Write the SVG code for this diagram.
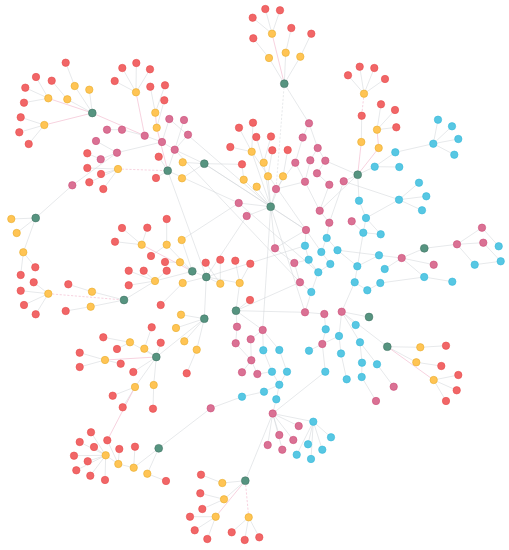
<svg xmlns="http://www.w3.org/2000/svg" width="509" height="550" viewBox="0 0 509 550">
<style>
.e line{stroke:#cfd2d6;stroke-width:0.5;fill:none}
line.pk{stroke:#f2b4c9;stroke-width:0.6}
line.d{stroke-dasharray:2.2 1.6}
circle{stroke-width:0.6}
.r circle{fill:#F16667;stroke:#E84B4C}
.y circle{fill:#FFC454;stroke:#E8AC2C}
.g circle{fill:#569480;stroke:#447666}
.p circle{fill:#DA7194;stroke:#CC4F79}
.b circle{fill:#57C7E3;stroke:#35B8DA}
</style>
<rect width="509" height="550" fill="#ffffff"/>
<g id="connectors" class="e">
<line x1="65.7" y1="62.7" x2="74.7" y2="86"/>
<line x1="36" y1="77" x2="48.3" y2="98.3"/>
<line x1="25.3" y1="87.7" x2="48.3" y2="98.3"/>
<line x1="24" y1="102.7" x2="48.3" y2="98.3"/>
<line x1="51.7" y1="80.7" x2="67.3" y2="99.3"/>
<line x1="20.7" y1="117.3" x2="44.3" y2="125"/>
<line x1="19.3" y1="132.3" x2="44.3" y2="125"/>
<line x1="28.7" y1="144" x2="44.3" y2="125"/>
<line x1="74.7" y1="86" x2="92.3" y2="113"/>
<line x1="89.3" y1="89.7" x2="92.3" y2="113"/>
<line class="pk" x1="48.3" y1="98.3" x2="92.3" y2="113"/>
<line x1="67.3" y1="99.3" x2="92.3" y2="113"/>
<line class="pk" x1="44.3" y1="125" x2="92.3" y2="113"/>
<line class="pk" x1="92.3" y1="113" x2="144.7" y2="135.7"/>
<line x1="122.3" y1="68" x2="136" y2="92.3"/>
<line x1="136.3" y1="63" x2="136" y2="92.3"/>
<line x1="150" y1="69.3" x2="136" y2="92.3"/>
<line x1="114.7" y1="81" x2="136" y2="92.3"/>
<line class="pk" x1="136" y1="92.3" x2="144.7" y2="135.7"/>
<line x1="150.3" y1="86.7" x2="155.3" y2="112.7"/>
<line x1="165" y1="85.3" x2="155.3" y2="112.7"/>
<line x1="164.3" y1="100.3" x2="156.7" y2="127.7"/>
<line class="pk" x1="155.3" y1="112.7" x2="156.7" y2="127.7"/>
<line class="pk" x1="156.7" y1="127.7" x2="167.7" y2="170.7"/>
<line x1="107" y1="129.7" x2="122" y2="129.7"/>
<line x1="122" y1="129.7" x2="144.7" y2="135.7"/>
<line x1="144.7" y1="135.7" x2="162" y2="142"/>
<line x1="169.3" y1="119" x2="162" y2="142"/>
<line x1="184" y1="120" x2="174.7" y2="149.7"/>
<line x1="188" y1="134.7" x2="174.7" y2="149.7"/>
<line x1="162" y1="142" x2="174.7" y2="149.7"/>
<line x1="96" y1="141" x2="117" y2="152.7"/>
<line x1="100.7" y1="159.3" x2="117" y2="152.7"/>
<line x1="87.3" y1="153.3" x2="100.7" y2="159.3"/>
<line x1="117" y1="152.7" x2="162" y2="142"/>
<line x1="117" y1="152.7" x2="72.3" y2="185.3"/>
<line x1="87.3" y1="168" x2="118" y2="169"/>
<line x1="101" y1="174" x2="118" y2="169"/>
<line x1="89.3" y1="182.3" x2="118" y2="169"/>
<line x1="103.3" y1="189" x2="118" y2="169"/>
<line class="pk d" x1="118" y1="169" x2="167.7" y2="170.7"/>
<line x1="158.7" y1="156.7" x2="167.7" y2="170.7"/>
<line x1="156" y1="178" x2="167.7" y2="170.7"/>
<line x1="174.7" y1="149.7" x2="167.7" y2="170.7"/>
<line x1="182.7" y1="162.3" x2="204.3" y2="163.7"/>
<line x1="182" y1="178.3" x2="204.3" y2="163.7"/>
<line x1="174.7" y1="149.7" x2="204.3" y2="163.7"/>
<line x1="72.3" y1="185.3" x2="35.7" y2="218"/>
<line x1="204.3" y1="163.7" x2="242" y2="164.3"/>
<line x1="204.3" y1="163.7" x2="270.7" y2="206.7"/>
<line x1="167.7" y1="170.7" x2="238.7" y2="203"/>
<line x1="169.3" y1="119" x2="270.7" y2="206.7"/>
<line x1="167.7" y1="170.7" x2="206.3" y2="277"/>
<line x1="174.7" y1="149.7" x2="300" y2="282.3"/>
<line x1="204.3" y1="163.7" x2="306" y2="230"/>
<line x1="251.7" y1="151.7" x2="321.3" y2="252"/>
<line x1="238.7" y1="203" x2="318.3" y2="272.3"/>
<line x1="206.3" y1="277" x2="305" y2="245.7"/>
<line x1="35.7" y1="218" x2="11.3" y2="219"/>
<line x1="35.7" y1="218" x2="16.7" y2="233"/>
<line x1="35.7" y1="218" x2="23.3" y2="252.3"/>
<line x1="23.3" y1="252.3" x2="35.3" y2="267.3"/>
<line x1="23.3" y1="252.3" x2="20.7" y2="275"/>
<line x1="33.7" y1="282.3" x2="48.3" y2="293.7"/>
<line x1="20.7" y1="290.7" x2="48.3" y2="293.7"/>
<line x1="24" y1="305" x2="48.3" y2="293.7"/>
<line x1="35.7" y1="314.3" x2="48.3" y2="293.7"/>
<line x1="68.3" y1="284.3" x2="92" y2="291.7"/>
<line x1="65.7" y1="311" x2="90.7" y2="306.7"/>
<line x1="92" y1="291.7" x2="124" y2="300"/>
<line x1="90.7" y1="306.7" x2="124" y2="300"/>
<line class="pk d" x1="48.3" y1="293.7" x2="124" y2="300"/>
<line x1="124" y1="300" x2="155" y2="281"/>
<line x1="122" y1="228" x2="141.7" y2="244.7"/>
<line x1="147.3" y1="227.7" x2="141.7" y2="244.7"/>
<line x1="115" y1="241.7" x2="141.7" y2="244.7"/>
<line x1="166.7" y1="219" x2="166.7" y2="244.7"/>
<line class="pk" x1="141.7" y1="244.7" x2="192.3" y2="271.3"/>
<line x1="151" y1="256" x2="166.7" y2="244.7"/>
<line x1="165" y1="262" x2="180" y2="262.3"/>
<line x1="166.7" y1="244.7" x2="192.3" y2="271.3"/>
<line x1="128.7" y1="270.7" x2="155" y2="281"/>
<line x1="143.7" y1="270.7" x2="155" y2="281"/>
<line x1="166.7" y1="270.7" x2="155" y2="281"/>
<line x1="128.7" y1="285.3" x2="155" y2="281"/>
<line x1="155" y1="281" x2="192.3" y2="271.3"/>
<line x1="160.7" y1="305" x2="182.7" y2="283"/>
<line x1="181.7" y1="240" x2="192.3" y2="271.3"/>
<line x1="180" y1="262.3" x2="192.3" y2="271.3"/>
<line x1="205.7" y1="262.7" x2="220.3" y2="283.7"/>
<line x1="220.3" y1="259.7" x2="220.3" y2="283.7"/>
<line x1="235.3" y1="260.7" x2="239.7" y2="283"/>
<line x1="250.3" y1="263.7" x2="239.7" y2="283"/>
<line x1="182.7" y1="283" x2="206.3" y2="277"/>
<line x1="220.3" y1="283.7" x2="206.3" y2="277"/>
<line x1="239.7" y1="283" x2="206.3" y2="277"/>
<line x1="192.3" y1="271.3" x2="206.3" y2="277"/>
<line x1="250" y1="300" x2="236" y2="310.7"/>
<line x1="206.3" y1="277" x2="204.3" y2="318.7"/>
<line x1="181.7" y1="240" x2="238.7" y2="203"/>
<line x1="181" y1="314.7" x2="204.3" y2="318.7"/>
<line x1="176" y1="328" x2="204.3" y2="318.7"/>
<line x1="184.3" y1="341.3" x2="204.3" y2="318.7"/>
<line x1="196.7" y1="349.7" x2="204.3" y2="318.7"/>
<line x1="186.7" y1="373.3" x2="196.7" y2="349.7"/>
<line x1="236" y1="310.7" x2="239.7" y2="283"/>
<line x1="236" y1="310.7" x2="237" y2="326.7"/>
<line x1="236" y1="310.7" x2="262.7" y2="330"/>
<line x1="236" y1="310.7" x2="300" y2="282.3"/>
<line x1="204.3" y1="318.7" x2="156.3" y2="357"/>
<line x1="103.3" y1="337.3" x2="130" y2="342.3"/>
<line x1="117" y1="349" x2="130" y2="342.3"/>
<line x1="151.7" y1="327.3" x2="144.3" y2="348.7"/>
<line x1="160.7" y1="342.7" x2="156.3" y2="357"/>
<line x1="130" y1="342.3" x2="156.3" y2="357"/>
<line x1="144.3" y1="348.7" x2="156.3" y2="357"/>
<line x1="79.7" y1="352.7" x2="105" y2="360"/>
<line x1="79.7" y1="367" x2="105" y2="360"/>
<line x1="120.7" y1="363.7" x2="105" y2="360"/>
<line class="pk" x1="105" y1="360" x2="156.3" y2="357"/>
<line x1="133.3" y1="372" x2="156.3" y2="357"/>
<line x1="135" y1="387" x2="156.3" y2="357"/>
<line x1="153.7" y1="385" x2="156.3" y2="357"/>
<line x1="112.7" y1="395.7" x2="135" y2="387"/>
<line x1="122.7" y1="407.3" x2="135" y2="387"/>
<line x1="153" y1="408.7" x2="153.7" y2="385"/>
<line class="pk" x1="135" y1="387" x2="107.3" y2="440.3"/>
<line x1="91" y1="432.3" x2="105.7" y2="455.3"/>
<line x1="79.7" y1="442" x2="105.7" y2="455.3"/>
<line x1="94" y1="447" x2="105.7" y2="455.3"/>
<line x1="74" y1="455.7" x2="105.7" y2="455.3"/>
<line x1="87.7" y1="461.3" x2="105.7" y2="455.3"/>
<line x1="76.3" y1="470.3" x2="105.7" y2="455.3"/>
<line x1="90.3" y1="475.7" x2="105.7" y2="455.3"/>
<line x1="105" y1="480" x2="105.7" y2="455.3"/>
<line x1="107.3" y1="440.3" x2="118.3" y2="464"/>
<line x1="119.3" y1="449" x2="118.3" y2="464"/>
<line x1="135" y1="446.7" x2="133.7" y2="467.7"/>
<line x1="105.7" y1="455.3" x2="118.3" y2="464"/>
<line x1="118.3" y1="464" x2="133.7" y2="467.7"/>
<line x1="133.7" y1="467.7" x2="158.7" y2="448.3"/>
<line x1="147.3" y1="473.7" x2="158.7" y2="448.3"/>
<line x1="166" y1="481" x2="147.3" y2="473.7"/>
<line x1="158.7" y1="448.3" x2="210.7" y2="408.3"/>
<line x1="201" y1="474.7" x2="222.3" y2="483"/>
<line x1="200.3" y1="493.3" x2="224" y2="499.3"/>
<line x1="202.3" y1="509" x2="224" y2="499.3"/>
<line x1="190" y1="516.7" x2="215.7" y2="516.7"/>
<line x1="194.7" y1="530.3" x2="215.7" y2="516.7"/>
<line x1="207.3" y1="539" x2="215.7" y2="516.7"/>
<line x1="231.7" y1="532.3" x2="248.7" y2="517.3"/>
<line x1="244.7" y1="540" x2="248.7" y2="517.3"/>
<line x1="259.3" y1="537.3" x2="248.7" y2="517.3"/>
<line x1="222.3" y1="483" x2="245.3" y2="480.7"/>
<line x1="224" y1="499.3" x2="245.3" y2="480.7"/>
<line class="pk" x1="215.7" y1="516.7" x2="245.3" y2="480.7"/>
<line class="pk d" x1="248.7" y1="517.3" x2="245.3" y2="480.7"/>
<line x1="245.3" y1="480.7" x2="272.7" y2="413.5"/>
<line x1="272.7" y1="413.5" x2="298.7" y2="426"/>
<line x1="272.7" y1="413.5" x2="279.3" y2="435"/>
<line x1="272.7" y1="413.5" x2="293.3" y2="440"/>
<line x1="272.7" y1="413.5" x2="267.7" y2="445"/>
<line x1="272.7" y1="413.5" x2="282.3" y2="449.7"/>
<line x1="272.7" y1="413.5" x2="313.3" y2="421.7"/>
<line x1="313.3" y1="421.7" x2="331" y2="437.3"/>
<line x1="313.3" y1="421.7" x2="308" y2="444.3"/>
<line x1="313.3" y1="421.7" x2="322.3" y2="449.7"/>
<line x1="313.3" y1="421.7" x2="296.7" y2="454.7"/>
<line x1="313.3" y1="421.7" x2="311" y2="459"/>
<line x1="272.7" y1="413.5" x2="276.3" y2="399.3"/>
<line x1="272.7" y1="413.5" x2="325.3" y2="371.7"/>
<line x1="265.3" y1="9" x2="272" y2="33.7"/>
<line x1="280" y1="10.3" x2="272" y2="33.7"/>
<line x1="252.7" y1="17.7" x2="272" y2="33.7"/>
<line x1="253.3" y1="38.3" x2="269" y2="58"/>
<line x1="291.3" y1="28" x2="285.7" y2="52.7"/>
<line x1="311.3" y1="33.7" x2="300.3" y2="56.7"/>
<line class="pk" x1="272" y1="33.7" x2="284.3" y2="83.7"/>
<line x1="285.7" y1="52.7" x2="284.3" y2="83.7"/>
<line x1="269" y1="58" x2="284.3" y2="83.7"/>
<line x1="300.3" y1="56.7" x2="284.3" y2="83.7"/>
<line x1="284.3" y1="83.7" x2="309" y2="123.3"/>
<line class="d" x1="284.3" y1="83.7" x2="276" y2="189"/>
<line x1="359.7" y1="66.7" x2="364" y2="93.7"/>
<line x1="374.3" y1="68" x2="364" y2="93.7"/>
<line x1="348" y1="75.3" x2="364" y2="93.7"/>
<line x1="385" y1="79" x2="364" y2="93.7"/>
<line class="pk d" x1="364" y1="93.7" x2="361.7" y2="115.7"/>
<line x1="361.7" y1="115.7" x2="361.3" y2="142"/>
<line x1="381" y1="104.3" x2="377" y2="129.7"/>
<line x1="395" y1="110" x2="377" y2="129.7"/>
<line x1="396.3" y1="127.3" x2="377" y2="129.7"/>
<line class="pk" x1="377" y1="129.7" x2="378.7" y2="148"/>
<line class="pk" x1="361.3" y1="142" x2="357.7" y2="174.7"/>
<line class="pk" x1="378.7" y1="148" x2="357.7" y2="174.7"/>
<line x1="357.7" y1="174.7" x2="374.7" y2="166.7"/>
<line x1="357.7" y1="174.7" x2="343.7" y2="181.3"/>
<line x1="357.7" y1="174.7" x2="325.3" y2="160.7"/>
<line x1="357.7" y1="174.7" x2="359" y2="200.7"/>
<line x1="357.7" y1="174.7" x2="319.7" y2="210.7"/>
<line x1="438" y1="119.7" x2="433.3" y2="143.7"/>
<line x1="452" y1="126.3" x2="433.3" y2="143.7"/>
<line x1="458.3" y1="139" x2="433.3" y2="143.7"/>
<line x1="454.3" y1="154.7" x2="433.3" y2="143.7"/>
<line x1="433.3" y1="143.7" x2="395.3" y2="152.3"/>
<line x1="395.3" y1="152.3" x2="374.7" y2="166.7"/>
<line x1="399.3" y1="167" x2="374.7" y2="166.7"/>
<line x1="419" y1="182.7" x2="399" y2="199.7"/>
<line x1="426.3" y1="196.3" x2="399" y2="199.7"/>
<line x1="422" y1="210.3" x2="399" y2="199.7"/>
<line x1="399" y1="199.7" x2="343.7" y2="181.3"/>
<line x1="399" y1="199.7" x2="366" y2="218"/>
<line x1="359" y1="200.7" x2="366" y2="218"/>
<line x1="366" y1="218" x2="363.3" y2="232.7"/>
<line x1="351.7" y1="221.3" x2="363.3" y2="232.7"/>
<line x1="363.3" y1="232.7" x2="380.7" y2="234.3"/>
<line x1="366" y1="218" x2="380.7" y2="234.3"/>
<line x1="363.3" y1="232.7" x2="354.7" y2="282.3"/>
<line x1="343.7" y1="181.3" x2="329.3" y2="222.7"/>
<line x1="482" y1="227.7" x2="457" y2="244.3"/>
<line x1="483.3" y1="242.7" x2="457" y2="244.3"/>
<line x1="482" y1="227.7" x2="498.7" y2="246.3"/>
<line x1="483.3" y1="242.7" x2="500.7" y2="261.3"/>
<line x1="457" y1="244.3" x2="474.7" y2="264.7"/>
<line x1="474.7" y1="264.7" x2="500.7" y2="261.3"/>
<line x1="424.3" y1="248.3" x2="457" y2="244.3"/>
<line x1="424.3" y1="248.3" x2="401.7" y2="258"/>
<line x1="401.7" y1="258" x2="433.7" y2="264.7"/>
<line x1="401.7" y1="258" x2="379" y2="255.3"/>
<line x1="401.7" y1="258" x2="384.7" y2="269"/>
<line x1="401.7" y1="258" x2="424.2" y2="277"/>
<line x1="379" y1="255.3" x2="357.3" y2="266.3"/>
<line x1="357.3" y1="266.3" x2="337.5" y2="250.2"/>
<line x1="379" y1="255.3" x2="337.5" y2="250.2"/>
<line x1="424.2" y1="277" x2="452.3" y2="281.7"/>
<line x1="424.2" y1="277" x2="380.3" y2="283"/>
<line x1="380.3" y1="283" x2="367.3" y2="290.3"/>
<line x1="354.7" y1="282.3" x2="367.3" y2="290.3"/>
<line x1="354.7" y1="282.3" x2="341.7" y2="311.7"/>
<line x1="319.7" y1="210.7" x2="329.3" y2="222.7"/>
<line x1="329.3" y1="222.7" x2="326.7" y2="238"/>
<line x1="306" y1="230" x2="305" y2="245.7"/>
<line x1="326.7" y1="238" x2="321.3" y2="252"/>
<line x1="326.7" y1="238" x2="337.5" y2="250.2"/>
<line x1="305" y1="245.7" x2="308.7" y2="259.7"/>
<line x1="321.3" y1="252" x2="330.3" y2="264"/>
<line x1="308.7" y1="259.7" x2="318.3" y2="272.3"/>
<line x1="330.3" y1="264" x2="318.3" y2="272.3"/>
<line x1="306" y1="230" x2="275" y2="248.3"/>
<line x1="275" y1="248.3" x2="294.3" y2="263"/>
<line x1="294.3" y1="263" x2="308.7" y2="259.7"/>
<line x1="294.3" y1="263" x2="300" y2="282.3"/>
<line x1="300" y1="282.3" x2="311.3" y2="292"/>
<line x1="318.3" y1="272.3" x2="311.3" y2="292"/>
<line x1="311.3" y1="292" x2="305" y2="312.3"/>
<line x1="305" y1="312.3" x2="324.3" y2="314"/>
<line x1="324.3" y1="314" x2="325.7" y2="329.3"/>
<line x1="341.7" y1="311.7" x2="339" y2="336"/>
<line x1="341.7" y1="311.7" x2="355.7" y2="325"/>
<line x1="341.7" y1="311.7" x2="369" y2="317"/>
<line x1="341.7" y1="311.7" x2="360" y2="342.3"/>
<line x1="341.7" y1="311.7" x2="387.3" y2="346.7"/>
<line x1="339" y1="336" x2="322.3" y2="344"/>
<line x1="325.7" y1="329.3" x2="322.3" y2="344"/>
<line x1="322.3" y1="344" x2="309" y2="350.7"/>
<line x1="339" y1="336" x2="341" y2="353.5"/>
<line x1="360" y1="342.3" x2="362" y2="362.7"/>
<line x1="360" y1="342.3" x2="377" y2="364.3"/>
<line x1="341" y1="353.5" x2="346.7" y2="379.3"/>
<line x1="362" y1="362.7" x2="361.7" y2="377"/>
<line x1="377" y1="364.3" x2="393.7" y2="386.7"/>
<line x1="361.7" y1="377" x2="376" y2="401"/>
<line x1="322.3" y1="344" x2="325.3" y2="371.7"/>
<line x1="305" y1="312.3" x2="236" y2="310.7"/>
<line x1="270.7" y1="206.7" x2="275" y2="248.3"/>
<line x1="270.7" y1="206.7" x2="306" y2="230"/>
<line x1="270.7" y1="206.7" x2="305" y2="312.3"/>
<line x1="270.7" y1="206.7" x2="262.7" y2="330"/>
<line x1="246.7" y1="216" x2="206.3" y2="277"/>
<line x1="246.7" y1="216" x2="270.7" y2="206.7"/>
<line x1="238.7" y1="203" x2="270.7" y2="206.7"/>
<line x1="387.3" y1="346.7" x2="420.3" y2="347.3"/>
<line x1="420.3" y1="347.3" x2="446" y2="345.7"/>
<line x1="387.3" y1="346.7" x2="416.3" y2="362.3"/>
<line x1="416.3" y1="362.3" x2="441.3" y2="366"/>
<line class="pk" x1="387.3" y1="346.7" x2="433.7" y2="380"/>
<line x1="433.7" y1="380" x2="458.3" y2="375"/>
<line x1="433.7" y1="380" x2="456.7" y2="390.3"/>
<line x1="433.7" y1="380" x2="446" y2="401"/>
<line x1="237" y1="326.7" x2="235.7" y2="343.3"/>
<line x1="262.7" y1="330" x2="250.7" y2="339.3"/>
<line x1="262.7" y1="330" x2="263.3" y2="350.3"/>
<line x1="262.7" y1="330" x2="279.3" y2="350"/>
<line x1="250.7" y1="339.3" x2="251.3" y2="360.3"/>
<line x1="235.7" y1="343.3" x2="251.3" y2="360.3"/>
<line x1="263.3" y1="350.3" x2="272" y2="371.7"/>
<line x1="251.3" y1="360.3" x2="242" y2="372.3"/>
<line x1="251.3" y1="360.3" x2="257.3" y2="374"/>
<line x1="257.3" y1="374" x2="272" y2="371.7"/>
<line x1="279.3" y1="350" x2="287" y2="371.7"/>
<line x1="272" y1="371.7" x2="279.3" y2="384.7"/>
<line x1="287" y1="371.7" x2="279.3" y2="384.7"/>
<line x1="279.3" y1="384.7" x2="264" y2="391.7"/>
<line x1="279.3" y1="384.7" x2="276.3" y2="399.3"/>
<line x1="264" y1="391.7" x2="242" y2="396.7"/>
<line x1="242" y1="396.7" x2="210.7" y2="408.3"/>
<line x1="309" y1="123.3" x2="302.7" y2="137.5"/>
<line x1="309" y1="123.3" x2="317.7" y2="148"/>
<line x1="302.7" y1="137.5" x2="295.3" y2="162.7"/>
<line x1="317.7" y1="148" x2="310.3" y2="160.3"/>
<line x1="317.7" y1="148" x2="325.3" y2="160.7"/>
<line x1="239" y1="127.7" x2="251.7" y2="151.7"/>
<line x1="253" y1="122.7" x2="251.7" y2="151.7"/>
<line x1="230.3" y1="147" x2="251.7" y2="151.7"/>
<line x1="256.3" y1="137" x2="263.7" y2="162.7"/>
<line x1="271" y1="136.5" x2="263.7" y2="162.7"/>
<line x1="272.3" y1="150.3" x2="268" y2="176.3"/>
<line x1="287.7" y1="150" x2="283" y2="176.3"/>
<line x1="242" y1="164.3" x2="243.7" y2="179.7"/>
<line x1="251.7" y1="151.7" x2="270.7" y2="206.7"/>
<line x1="263.7" y1="162.7" x2="270.7" y2="206.7"/>
<line x1="243.7" y1="179.7" x2="270.7" y2="206.7"/>
<line x1="268" y1="176.3" x2="270.7" y2="206.7"/>
<line x1="283" y1="176.3" x2="270.7" y2="206.7"/>
<line x1="256.7" y1="186.7" x2="270.7" y2="206.7"/>
<line x1="276" y1="189" x2="270.7" y2="206.7"/>
<line x1="295.3" y1="162.7" x2="276" y2="189"/>
<line x1="310.3" y1="160.3" x2="305" y2="181.7"/>
<line x1="325.3" y1="160.7" x2="317" y2="173.3"/>
<line x1="317" y1="173.3" x2="329.3" y2="184.7"/>
<line x1="305" y1="181.7" x2="276" y2="189"/>
<line x1="305" y1="181.7" x2="319.7" y2="210.7"/>
<line x1="329.3" y1="184.7" x2="319.7" y2="210.7"/>
<line x1="295.3" y1="162.7" x2="305" y2="181.7"/>
</g>
<g id="nodes">
<g id="n-a1" class="r"><circle cx="65.7" cy="62.7" r="3.7"/></g>
<g id="n-a2" class="r"><circle cx="36" cy="77" r="3.7"/></g>
<g id="n-a3" class="r"><circle cx="51.7" cy="80.7" r="3.7"/></g>
<g id="n-a4" class="r"><circle cx="25.3" cy="87.7" r="3.7"/></g>
<g id="n-a5" class="r"><circle cx="24" cy="102.7" r="3.7"/></g>
<g id="n-a6" class="r"><circle cx="20.7" cy="117.3" r="3.7"/></g>
<g id="n-a7" class="r"><circle cx="19.3" cy="132.3" r="3.7"/></g>
<g id="n-a8" class="y"><circle cx="74.7" cy="86" r="3.7"/></g>
<g id="n-a9" class="y"><circle cx="89.3" cy="89.7" r="3.7"/></g>
<g id="n-a10" class="y"><circle cx="48.3" cy="98.3" r="3.7"/></g>
<g id="n-a11" class="y"><circle cx="67.3" cy="99.3" r="3.7"/></g>
<g id="n-a12" class="y"><circle cx="44.3" cy="125" r="3.7"/></g>
<g id="n-a13" class="g"><circle cx="92.3" cy="113" r="3.9"/></g>
<g id="n-a14" class="r"><circle cx="28.7" cy="144" r="3.7"/></g>
<g id="n-b1" class="r"><circle cx="122.3" cy="68" r="3.7"/></g>
<g id="n-b2" class="r"><circle cx="136.3" cy="63" r="3.7"/></g>
<g id="n-b3" class="r"><circle cx="150" cy="69.3" r="3.7"/></g>
<g id="n-b4" class="r"><circle cx="114.7" cy="81" r="3.7"/></g>
<g id="n-b5" class="y"><circle cx="136" cy="92.3" r="3.7"/></g>
<g id="n-b6" class="r"><circle cx="150.3" cy="86.7" r="3.7"/></g>
<g id="n-b7" class="r"><circle cx="165" cy="85.3" r="3.7"/></g>
<g id="n-b8" class="r"><circle cx="164.3" cy="100.3" r="3.7"/></g>
<g id="n-b9" class="y"><circle cx="155.3" cy="112.7" r="3.7"/></g>
<g id="n-b10" class="y"><circle cx="156.7" cy="127.7" r="3.7"/></g>
<g id="n-c1" class="p"><circle cx="107" cy="129.7" r="3.7"/></g>
<g id="n-c2" class="p"><circle cx="122" cy="129.7" r="3.7"/></g>
<g id="n-c3" class="p"><circle cx="144.7" cy="135.7" r="3.7"/></g>
<g id="n-c4" class="p"><circle cx="169.3" cy="119" r="3.7"/></g>
<g id="n-c5" class="p"><circle cx="184" cy="120" r="3.7"/></g>
<g id="n-c6" class="p"><circle cx="188" cy="134.7" r="3.7"/></g>
<g id="n-c7" class="p"><circle cx="96" cy="141" r="3.7"/></g>
<g id="n-c8" class="p"><circle cx="117" cy="152.7" r="3.7"/></g>
<g id="n-c9" class="p"><circle cx="100.7" cy="159.3" r="3.7"/></g>
<g id="n-c10" class="p"><circle cx="162" cy="142" r="3.7"/></g>
<g id="n-c11" class="p"><circle cx="174.7" cy="149.7" r="3.7"/></g>
<g id="n-c12" class="r"><circle cx="87.3" cy="153.3" r="3.7"/></g>
<g id="n-c13" class="r"><circle cx="87.3" cy="168" r="3.7"/></g>
<g id="n-c14" class="r"><circle cx="101" cy="174" r="3.7"/></g>
<g id="n-c15" class="r"><circle cx="89.3" cy="182.3" r="3.7"/></g>
<g id="n-c16" class="r"><circle cx="103.3" cy="189" r="3.7"/></g>
<g id="n-c17" class="y"><circle cx="118" cy="169" r="3.7"/></g>
<g id="n-c18" class="g"><circle cx="167.7" cy="170.7" r="3.9"/></g>
<g id="n-c19" class="r"><circle cx="158.7" cy="156.7" r="3.7"/></g>
<g id="n-c20" class="r"><circle cx="156" cy="178" r="3.7"/></g>
<g id="n-c21" class="y"><circle cx="182.7" cy="162.3" r="3.7"/></g>
<g id="n-c22" class="g"><circle cx="204.3" cy="163.7" r="3.9"/></g>
<g id="n-c23" class="y"><circle cx="182" cy="178.3" r="3.7"/></g>
<g id="n-c24" class="p"><circle cx="72.3" cy="185.3" r="3.7"/></g>
<g id="n-e1" class="g"><circle cx="35.7" cy="218" r="3.9"/></g>
<g id="n-e2" class="y"><circle cx="11.3" cy="219" r="3.7"/></g>
<g id="n-e3" class="y"><circle cx="16.7" cy="233" r="3.7"/></g>
<g id="n-e4" class="y"><circle cx="23.3" cy="252.3" r="3.7"/></g>
<g id="n-e5" class="r"><circle cx="35.3" cy="267.3" r="3.7"/></g>
<g id="n-e6" class="r"><circle cx="20.7" cy="275" r="3.7"/></g>
<g id="n-f1" class="r"><circle cx="33.7" cy="282.3" r="3.7"/></g>
<g id="n-f2" class="r"><circle cx="20.7" cy="290.7" r="3.7"/></g>
<g id="n-f3" class="y"><circle cx="48.3" cy="293.7" r="3.7"/></g>
<g id="n-f4" class="r"><circle cx="24" cy="305" r="3.7"/></g>
<g id="n-f5" class="r"><circle cx="35.7" cy="314.3" r="3.7"/></g>
<g id="n-f6" class="r"><circle cx="68.3" cy="284.3" r="3.7"/></g>
<g id="n-f7" class="y"><circle cx="92" cy="291.7" r="3.7"/></g>
<g id="n-f8" class="g"><circle cx="124" cy="300" r="3.9"/></g>
<g id="n-f9" class="y"><circle cx="90.7" cy="306.7" r="3.7"/></g>
<g id="n-f10" class="r"><circle cx="65.7" cy="311" r="3.7"/></g>
<g id="n-h1" class="r"><circle cx="122" cy="228" r="3.7"/></g>
<g id="n-h2" class="r"><circle cx="147.3" cy="227.7" r="3.7"/></g>
<g id="n-h3" class="r"><circle cx="166.7" cy="219" r="3.7"/></g>
<g id="n-h4" class="r"><circle cx="115" cy="241.7" r="3.7"/></g>
<g id="n-h5" class="y"><circle cx="141.7" cy="244.7" r="3.7"/></g>
<g id="n-h6" class="y"><circle cx="166.7" cy="244.7" r="3.7"/></g>
<g id="n-h7" class="r"><circle cx="151" cy="256" r="3.7"/></g>
<g id="n-h8" class="r"><circle cx="165" cy="262" r="3.7"/></g>
<g id="n-h9" class="r"><circle cx="128.7" cy="270.7" r="3.7"/></g>
<g id="n-h10" class="r"><circle cx="143.7" cy="270.7" r="3.7"/></g>
<g id="n-h11" class="r"><circle cx="166.7" cy="270.7" r="3.7"/></g>
<g id="n-h12" class="y"><circle cx="155" cy="281" r="3.7"/></g>
<g id="n-h14" class="r"><circle cx="128.7" cy="285.3" r="3.7"/></g>
<g id="n-h15" class="r"><circle cx="160.7" cy="305" r="3.7"/></g>
<g id="n-i1" class="y"><circle cx="181.7" cy="240" r="3.7"/></g>
<g id="n-i2" class="y"><circle cx="180" cy="262.3" r="3.7"/></g>
<g id="n-i3" class="g"><circle cx="192.3" cy="271.3" r="3.9"/></g>
<g id="n-i4" class="r"><circle cx="205.7" cy="262.7" r="3.7"/></g>
<g id="n-i5" class="r"><circle cx="220.3" cy="259.7" r="3.7"/></g>
<g id="n-i6" class="r"><circle cx="235.3" cy="260.7" r="3.7"/></g>
<g id="n-i7" class="r"><circle cx="250.3" cy="263.7" r="3.7"/></g>
<g id="n-i8" class="g"><circle cx="206.3" cy="277" r="3.9"/></g>
<g id="n-i9" class="y"><circle cx="182.7" cy="283" r="3.7"/></g>
<g id="n-i10" class="y"><circle cx="220.3" cy="283.7" r="3.7"/></g>
<g id="n-i11" class="y"><circle cx="239.7" cy="283" r="3.7"/></g>
<g id="n-i12" class="r"><circle cx="250" cy="300" r="3.7"/></g>
<g id="n-j1" class="y"><circle cx="181" cy="314.7" r="3.7"/></g>
<g id="n-j2" class="g"><circle cx="204.3" cy="318.7" r="3.9"/></g>
<g id="n-j3" class="y"><circle cx="176" cy="328" r="3.7"/></g>
<g id="n-j4" class="y"><circle cx="184.3" cy="341.3" r="3.7"/></g>
<g id="n-j5" class="y"><circle cx="196.7" cy="349.7" r="3.7"/></g>
<g id="n-j6" class="r"><circle cx="186.7" cy="373.3" r="3.7"/></g>
<g id="n-j7" class="g"><circle cx="236" cy="310.7" r="3.9"/></g>
<g id="n-k1" class="r"><circle cx="151.7" cy="327.3" r="3.7"/></g>
<g id="n-k2" class="r"><circle cx="103.3" cy="337.3" r="3.7"/></g>
<g id="n-k3" class="y"><circle cx="130" cy="342.3" r="3.7"/></g>
<g id="n-k4" class="y"><circle cx="144.3" cy="348.7" r="3.7"/></g>
<g id="n-k5" class="r"><circle cx="117" cy="349" r="3.7"/></g>
<g id="n-k6" class="r"><circle cx="160.7" cy="342.7" r="3.7"/></g>
<g id="n-k7" class="g"><circle cx="156.3" cy="357" r="3.9"/></g>
<g id="n-k8" class="r"><circle cx="79.7" cy="352.7" r="3.7"/></g>
<g id="n-k9" class="y"><circle cx="105" cy="360" r="3.7"/></g>
<g id="n-k10" class="r"><circle cx="120.7" cy="363.7" r="3.7"/></g>
<g id="n-k11" class="r"><circle cx="79.7" cy="367" r="3.7"/></g>
<g id="n-k12" class="r"><circle cx="133.3" cy="372" r="3.7"/></g>
<g id="n-k13" class="y"><circle cx="135" cy="387" r="3.7"/></g>
<g id="n-k14" class="y"><circle cx="153.7" cy="385" r="3.7"/></g>
<g id="n-k15" class="r"><circle cx="112.7" cy="395.7" r="3.7"/></g>
<g id="n-k16" class="r"><circle cx="122.7" cy="407.3" r="3.7"/></g>
<g id="n-k17" class="r"><circle cx="153" cy="408.7" r="3.7"/></g>
<g id="n-l1" class="r"><circle cx="91" cy="432.3" r="3.7"/></g>
<g id="n-l2" class="r"><circle cx="79.7" cy="442" r="3.7"/></g>
<g id="n-l3" class="r"><circle cx="107.3" cy="440.3" r="3.7"/></g>
<g id="n-l4" class="r"><circle cx="94" cy="447" r="3.7"/></g>
<g id="n-l5" class="r"><circle cx="74" cy="455.7" r="3.7"/></g>
<g id="n-l6" class="y"><circle cx="105.7" cy="455.3" r="3.7"/></g>
<g id="n-l7" class="r"><circle cx="87.7" cy="461.3" r="3.7"/></g>
<g id="n-l8" class="r"><circle cx="119.3" cy="449" r="3.7"/></g>
<g id="n-l9" class="r"><circle cx="135" cy="446.7" r="3.7"/></g>
<g id="n-l10" class="g"><circle cx="158.7" cy="448.3" r="3.9"/></g>
<g id="n-l11" class="y"><circle cx="118.3" cy="464" r="3.7"/></g>
<g id="n-l12" class="y"><circle cx="133.7" cy="467.7" r="3.7"/></g>
<g id="n-l13" class="r"><circle cx="76.3" cy="470.3" r="3.7"/></g>
<g id="n-l14" class="r"><circle cx="90.3" cy="475.7" r="3.7"/></g>
<g id="n-l15" class="r"><circle cx="105" cy="480" r="3.7"/></g>
<g id="n-l16" class="y"><circle cx="147.3" cy="473.7" r="3.7"/></g>
<g id="n-l17" class="r"><circle cx="166" cy="481" r="3.7"/></g>
<g id="n-m1" class="r"><circle cx="201" cy="474.7" r="3.7"/></g>
<g id="n-m2" class="y"><circle cx="222.3" cy="483" r="3.7"/></g>
<g id="n-m3" class="r"><circle cx="200.3" cy="493.3" r="3.7"/></g>
<g id="n-m4" class="y"><circle cx="224" cy="499.3" r="3.7"/></g>
<g id="n-m5" class="r"><circle cx="202.3" cy="509" r="3.7"/></g>
<g id="n-m6" class="r"><circle cx="190" cy="516.7" r="3.7"/></g>
<g id="n-m7" class="y"><circle cx="215.7" cy="516.7" r="3.7"/></g>
<g id="n-m8" class="y"><circle cx="248.7" cy="517.3" r="3.7"/></g>
<g id="n-m9" class="r"><circle cx="194.7" cy="530.3" r="3.7"/></g>
<g id="n-m10" class="r"><circle cx="207.3" cy="539" r="3.7"/></g>
<g id="n-m11" class="r"><circle cx="231.7" cy="532.3" r="3.7"/></g>
<g id="n-m12" class="r"><circle cx="244.7" cy="540" r="3.7"/></g>
<g id="n-m13" class="r"><circle cx="259.3" cy="537.3" r="3.7"/></g>
<g id="n-m14" class="g"><circle cx="245.3" cy="480.7" r="3.9"/></g>
<g id="n-n1" class="p"><circle cx="272.7" cy="413.5" r="3.7"/></g>
<g id="n-n2" class="b"><circle cx="313.3" cy="421.7" r="3.7"/></g>
<g id="n-n3" class="p"><circle cx="298.7" cy="426" r="3.7"/></g>
<g id="n-n4" class="b"><circle cx="331" cy="437.3" r="3.7"/></g>
<g id="n-n5" class="p"><circle cx="279.3" cy="435" r="3.7"/></g>
<g id="n-n6" class="p"><circle cx="293.3" cy="440" r="3.7"/></g>
<g id="n-n7" class="b"><circle cx="308" cy="444.3" r="3.7"/></g>
<g id="n-n8" class="b"><circle cx="322.3" cy="449.7" r="3.7"/></g>
<g id="n-n9" class="p"><circle cx="267.7" cy="445" r="3.7"/></g>
<g id="n-n10" class="p"><circle cx="282.3" cy="449.7" r="3.7"/></g>
<g id="n-n11" class="b"><circle cx="296.7" cy="454.7" r="3.7"/></g>
<g id="n-n12" class="b"><circle cx="311" cy="459" r="3.7"/></g>
<g id="n-o1" class="r"><circle cx="265.3" cy="9" r="3.7"/></g>
<g id="n-o2" class="r"><circle cx="280" cy="10.3" r="3.7"/></g>
<g id="n-o3" class="r"><circle cx="252.7" cy="17.7" r="3.7"/></g>
<g id="n-o4" class="y"><circle cx="272" cy="33.7" r="3.7"/></g>
<g id="n-o5" class="r"><circle cx="291.3" cy="28" r="3.7"/></g>
<g id="n-o6" class="r"><circle cx="311.3" cy="33.7" r="3.7"/></g>
<g id="n-o7" class="r"><circle cx="253.3" cy="38.3" r="3.7"/></g>
<g id="n-o8" class="y"><circle cx="285.7" cy="52.7" r="3.7"/></g>
<g id="n-o9" class="y"><circle cx="269" cy="58" r="3.7"/></g>
<g id="n-o10" class="y"><circle cx="300.3" cy="56.7" r="3.7"/></g>
<g id="n-o11" class="g"><circle cx="284.3" cy="83.7" r="3.9"/></g>
<g id="n-q1" class="r"><circle cx="359.7" cy="66.7" r="3.7"/></g>
<g id="n-q2" class="r"><circle cx="374.3" cy="68" r="3.7"/></g>
<g id="n-q3" class="r"><circle cx="348" cy="75.3" r="3.7"/></g>
<g id="n-q4" class="r"><circle cx="385" cy="79" r="3.7"/></g>
<g id="n-q5" class="y"><circle cx="364" cy="93.7" r="3.7"/></g>
<g id="n-q6" class="r"><circle cx="381" cy="104.3" r="3.7"/></g>
<g id="n-q7" class="r"><circle cx="395" cy="110" r="3.7"/></g>
<g id="n-q8" class="r"><circle cx="361.7" cy="115.7" r="3.7"/></g>
<g id="n-q9" class="y"><circle cx="377" cy="129.7" r="3.7"/></g>
<g id="n-q10" class="r"><circle cx="396.3" cy="127.3" r="3.7"/></g>
<g id="n-q11" class="y"><circle cx="361.3" cy="142" r="3.7"/></g>
<g id="n-q12" class="y"><circle cx="378.7" cy="148" r="3.7"/></g>
<g id="n-q13" class="g"><circle cx="357.7" cy="174.7" r="3.9"/></g>
<g id="n-s1" class="b"><circle cx="438" cy="119.7" r="3.7"/></g>
<g id="n-s2" class="b"><circle cx="452" cy="126.3" r="3.7"/></g>
<g id="n-s3" class="b"><circle cx="458.3" cy="139" r="3.7"/></g>
<g id="n-s4" class="b"><circle cx="433.3" cy="143.7" r="3.7"/></g>
<g id="n-s6" class="b"><circle cx="454.3" cy="154.7" r="3.7"/></g>
<g id="n-s7" class="b"><circle cx="395.3" cy="152.3" r="3.7"/></g>
<g id="n-s8" class="b"><circle cx="374.7" cy="166.7" r="3.7"/></g>
<g id="n-s9" class="b"><circle cx="399.3" cy="167" r="3.7"/></g>
<g id="n-s10" class="p"><circle cx="343.7" cy="181.3" r="3.7"/></g>
<g id="n-s11" class="b"><circle cx="419" cy="182.7" r="3.7"/></g>
<g id="n-s12" class="b"><circle cx="426.3" cy="196.3" r="3.7"/></g>
<g id="n-s13" class="b"><circle cx="399" cy="199.7" r="3.7"/></g>
<g id="n-s14" class="b"><circle cx="422" cy="210.3" r="3.7"/></g>
<g id="n-s15" class="b"><circle cx="359" cy="200.7" r="3.7"/></g>
<g id="n-s16" class="b"><circle cx="366" cy="218" r="3.7"/></g>
<g id="n-s17" class="p"><circle cx="351.7" cy="221.3" r="3.7"/></g>
<g id="n-s18" class="b"><circle cx="363.3" cy="232.7" r="3.7"/></g>
<g id="n-s19" class="b"><circle cx="380.7" cy="234.3" r="3.7"/></g>
<g id="n-t1" class="p"><circle cx="482" cy="227.7" r="3.7"/></g>
<g id="n-t2" class="p"><circle cx="483.3" cy="242.7" r="3.7"/></g>
<g id="n-t3" class="p"><circle cx="457" cy="244.3" r="3.7"/></g>
<g id="n-t4" class="b"><circle cx="498.7" cy="246.3" r="3.7"/></g>
<g id="n-t5" class="b"><circle cx="500.7" cy="261.3" r="3.7"/></g>
<g id="n-t6" class="b"><circle cx="474.7" cy="264.7" r="3.7"/></g>
<g id="n-t7" class="g"><circle cx="424.3" cy="248.3" r="3.9"/></g>
<g id="n-t8" class="p"><circle cx="401.7" cy="258" r="3.7"/></g>
<g id="n-t9" class="p"><circle cx="433.7" cy="264.7" r="3.7"/></g>
<g id="n-t10" class="b"><circle cx="379" cy="255.3" r="3.7"/></g>
<g id="n-t11" class="b"><circle cx="384.7" cy="269" r="3.7"/></g>
<g id="n-t12" class="b"><circle cx="357.3" cy="266.3" r="3.7"/></g>
<g id="n-u1" class="p"><circle cx="319.7" cy="210.7" r="3.7"/></g>
<g id="n-u2" class="p"><circle cx="329.3" cy="222.7" r="3.7"/></g>
<g id="n-u3" class="p"><circle cx="306" cy="230" r="3.7"/></g>
<g id="n-u4" class="b"><circle cx="326.7" cy="238" r="3.7"/></g>
<g id="n-u5" class="b"><circle cx="305" cy="245.7" r="3.7"/></g>
<g id="n-u6" class="b"><circle cx="321.3" cy="252" r="3.7"/></g>
<g id="n-u7" class="b"><circle cx="337.5" cy="250.2" r="3.7"/></g>
<g id="n-u8" class="b"><circle cx="308.7" cy="259.7" r="3.7"/></g>
<g id="n-u9" class="b"><circle cx="330.3" cy="264" r="3.7"/></g>
<g id="n-u10" class="b"><circle cx="318.3" cy="272.3" r="3.7"/></g>
<g id="n-u11" class="p"><circle cx="275" cy="248.3" r="3.7"/></g>
<g id="n-u12" class="p"><circle cx="294.3" cy="263" r="3.7"/></g>
<g id="n-u13" class="p"><circle cx="300" cy="282.3" r="3.7"/></g>
<g id="n-u14" class="b"><circle cx="311.3" cy="292" r="3.7"/></g>
<g id="n-u15" class="b"><circle cx="354.7" cy="282.3" r="3.7"/></g>
<g id="n-u16" class="b"><circle cx="380.3" cy="283" r="3.7"/></g>
<g id="n-u17" class="b"><circle cx="367.3" cy="290.3" r="3.7"/></g>
<g id="n-u18" class="b"><circle cx="424.2" cy="277" r="3.7"/></g>
<g id="n-u19" class="b"><circle cx="452.3" cy="281.7" r="3.7"/></g>
<g id="n-u20" class="p"><circle cx="305" cy="312.3" r="3.7"/></g>
<g id="n-u21" class="p"><circle cx="324.3" cy="314" r="3.7"/></g>
<g id="n-u22" class="p"><circle cx="341.7" cy="311.7" r="3.7"/></g>
<g id="n-u23" class="g"><circle cx="369" cy="317" r="3.9"/></g>
<g id="n-u24" class="b"><circle cx="325.7" cy="329.3" r="3.7"/></g>
<g id="n-u25" class="b"><circle cx="339" cy="336" r="3.7"/></g>
<g id="n-u26" class="b"><circle cx="355.7" cy="325" r="3.7"/></g>
<g id="n-u27" class="b"><circle cx="360" cy="342.3" r="3.7"/></g>
<g id="n-u28" class="p"><circle cx="322.3" cy="344" r="3.7"/></g>
<g id="n-u29" class="b"><circle cx="309" cy="350.7" r="3.7"/></g>
<g id="n-u30" class="b"><circle cx="341" cy="353.5" r="3.7"/></g>
<g id="n-u31" class="b"><circle cx="362" cy="362.7" r="3.7"/></g>
<g id="n-u32" class="b"><circle cx="377" cy="364.3" r="3.7"/></g>
<g id="n-u33" class="b"><circle cx="325.3" cy="371.7" r="3.7"/></g>
<g id="n-u34" class="b"><circle cx="346.7" cy="379.3" r="3.7"/></g>
<g id="n-u35" class="b"><circle cx="361.7" cy="377" r="3.7"/></g>
<g id="n-u36" class="p"><circle cx="393.7" cy="386.7" r="3.7"/></g>
<g id="n-u37" class="p"><circle cx="376" cy="401" r="3.7"/></g>
<g id="n-v1" class="g"><circle cx="387.3" cy="346.7" r="3.9"/></g>
<g id="n-v2" class="y"><circle cx="420.3" cy="347.3" r="3.7"/></g>
<g id="n-v3" class="r"><circle cx="446" cy="345.7" r="3.7"/></g>
<g id="n-v4" class="y"><circle cx="416.3" cy="362.3" r="3.7"/></g>
<g id="n-v5" class="r"><circle cx="441.3" cy="366" r="3.7"/></g>
<g id="n-v6" class="y"><circle cx="433.7" cy="380" r="3.7"/></g>
<g id="n-v7" class="r"><circle cx="458.3" cy="375" r="3.7"/></g>
<g id="n-v8" class="r"><circle cx="456.7" cy="390.3" r="3.7"/></g>
<g id="n-v9" class="r"><circle cx="446" cy="401" r="3.7"/></g>
<g id="n-w1" class="p"><circle cx="237" cy="326.7" r="3.7"/></g>
<g id="n-w2" class="p"><circle cx="262.7" cy="330" r="3.7"/></g>
<g id="n-w3" class="p"><circle cx="250.7" cy="339.3" r="3.7"/></g>
<g id="n-w4" class="p"><circle cx="235.7" cy="343.3" r="3.7"/></g>
<g id="n-w5" class="b"><circle cx="263.3" cy="350.3" r="3.7"/></g>
<g id="n-w6" class="b"><circle cx="279.3" cy="350" r="3.7"/></g>
<g id="n-w7" class="p"><circle cx="251.3" cy="360.3" r="3.7"/></g>
<g id="n-w8" class="p"><circle cx="242" cy="372.3" r="3.7"/></g>
<g id="n-w9" class="p"><circle cx="257.3" cy="374" r="3.7"/></g>
<g id="n-w10" class="b"><circle cx="272" cy="371.7" r="3.7"/></g>
<g id="n-w11" class="b"><circle cx="287" cy="371.7" r="3.7"/></g>
<g id="n-w12" class="b"><circle cx="279.3" cy="384.7" r="3.7"/></g>
<g id="n-w13" class="b"><circle cx="264" cy="391.7" r="3.7"/></g>
<g id="n-w14" class="b"><circle cx="276.3" cy="399.3" r="3.7"/></g>
<g id="n-w15" class="b"><circle cx="242" cy="396.7" r="3.7"/></g>
<g id="n-w16" class="p"><circle cx="210.7" cy="408.3" r="3.7"/></g>
<g id="n-x1" class="p"><circle cx="309" cy="123.3" r="3.7"/></g>
<g id="n-x2" class="p"><circle cx="302.7" cy="137.5" r="3.7"/></g>
<g id="n-x3" class="r"><circle cx="239" cy="127.7" r="3.7"/></g>
<g id="n-x4" class="r"><circle cx="253" cy="122.7" r="3.7"/></g>
<g id="n-x5" class="r"><circle cx="256.3" cy="137" r="3.7"/></g>
<g id="n-x6" class="r"><circle cx="271" cy="136.5" r="3.7"/></g>
<g id="n-x7" class="p"><circle cx="317.7" cy="148" r="3.7"/></g>
<g id="n-x8" class="r"><circle cx="230.3" cy="147" r="3.7"/></g>
<g id="n-x9" class="y"><circle cx="251.7" cy="151.7" r="3.7"/></g>
<g id="n-x10" class="r"><circle cx="272.3" cy="150.3" r="3.7"/></g>
<g id="n-x11" class="r"><circle cx="287.7" cy="150" r="3.7"/></g>
<g id="n-x12" class="r"><circle cx="242" cy="164.3" r="3.7"/></g>
<g id="n-x13" class="y"><circle cx="263.7" cy="162.7" r="3.7"/></g>
<g id="n-x14" class="p"><circle cx="295.3" cy="162.7" r="3.7"/></g>
<g id="n-x15" class="p"><circle cx="310.3" cy="160.3" r="3.7"/></g>
<g id="n-x16" class="p"><circle cx="325.3" cy="160.7" r="3.7"/></g>
<g id="n-x17" class="y"><circle cx="243.7" cy="179.7" r="3.7"/></g>
<g id="n-x18" class="y"><circle cx="268" cy="176.3" r="3.7"/></g>
<g id="n-x19" class="y"><circle cx="283" cy="176.3" r="3.7"/></g>
<g id="n-x20" class="y"><circle cx="256.7" cy="186.7" r="3.7"/></g>
<g id="n-x21" class="p"><circle cx="276" cy="189" r="3.7"/></g>
<g id="n-x22" class="p"><circle cx="305" cy="181.7" r="3.7"/></g>
<g id="n-x23" class="p"><circle cx="317" cy="173.3" r="3.7"/></g>
<g id="n-x24" class="p"><circle cx="329.3" cy="184.7" r="3.7"/></g>
<g id="n-x25" class="p"><circle cx="238.7" cy="203" r="3.7"/></g>
<g id="n-x26" class="g"><circle cx="270.7" cy="206.7" r="3.9"/></g>
<g id="n-x27" class="p"><circle cx="246.7" cy="216" r="3.7"/></g>
</g>
</svg>
